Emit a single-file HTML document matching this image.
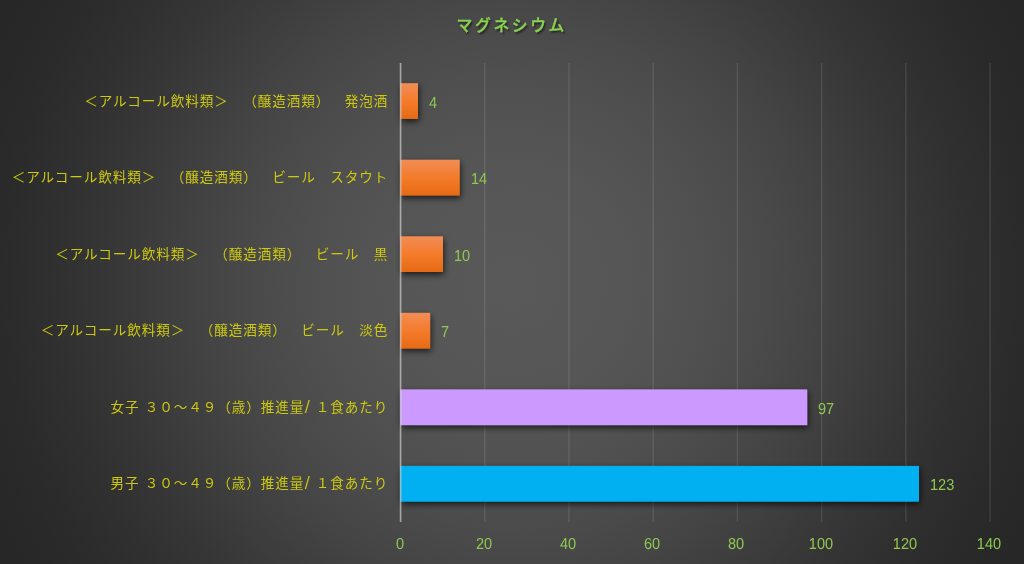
<!DOCTYPE html>
<html lang="ja"><head><meta charset="utf-8"><title>マグネシウム</title>
<style>
html,body{margin:0;padding:0;}
body{width:1024px;height:564px;overflow:hidden;position:relative;
 background:radial-gradient(circle at 512px 282px, #595959 0px, #585858 40px, #575757 75px, #565656 110px, #535353 157px, #4f4f4f 207px, #4a4a4a 257px, #444444 307px, #3d3d3d 357px, #363636 407px, #303030 457px, #2b2b2b 507px, #282828 545px, #272727 584px, #272727 600px);
 font-family:"Liberation Sans","Noto Sans CJK JP",sans-serif;}
.t{position:absolute;left:-2.2px;width:1024px;top:13.3px;text-align:center;color:#8ad250;font-weight:500;-webkit-text-stroke:.35px #8ad250;font-size:15.8px;letter-spacing:2.6px;line-height:24px;padding-left:2px;text-shadow:1.5px 1.5px 2px rgba(0,0,0,.55);font-family:"Noto Sans CJK JP","Liberation Sans",sans-serif;}
.gr{position:absolute;left:0;top:0;}
.c{position:absolute;left:0;width:388.2px;text-align:right;color:#cdc910;font-size:13.6px;letter-spacing:.9px;line-height:20px;white-space:nowrap;font-family:"Noto Sans CJK JP","Liberation Sans",sans-serif;text-spacing-trim:space-all;word-spacing:1.4px;}
.s{font-family:"DejaVu Sans","Liberation Sans",sans-serif;font-size:15px;line-height:10px;letter-spacing:.6px;margin-left:.5px}
.v{position:absolute;color:#8fc851;text-rendering:geometricPrecision;font-size:15.9px;line-height:18px;white-space:nowrap;transform:scaleX(.915);transform-origin:0 50%;margin:0 0 0 .5px;}
.x{position:absolute;top:536.3px;width:60px;margin-left:-30px;text-align:center;color:#8fc851;text-rendering:geometricPrecision;font-size:15.9px;line-height:18px;transform:scaleX(.915);}
</style></head><body>
<div class="t">マグネシウム</div>
<svg class="gr" width="1024" height="564" viewBox="0 0 1024 564">
<rect x="484.06" y="63" width="1.33" height="459" fill="#f2f2f2" fill-opacity=".115"/>
<rect x="568.28" y="63" width="1.33" height="459" fill="#f2f2f2" fill-opacity=".115"/>
<rect x="652.50" y="63" width="1.33" height="459" fill="#f2f2f2" fill-opacity=".115"/>
<rect x="736.72" y="63" width="1.33" height="459" fill="#f2f2f2" fill-opacity=".115"/>
<rect x="820.94" y="63" width="1.33" height="459" fill="#f2f2f2" fill-opacity=".115"/>
<rect x="905.15" y="63" width="1.33" height="459" fill="#f2f2f2" fill-opacity=".115"/>
<rect x="989.38" y="63" width="1.33" height="459" fill="#f2f2f2" fill-opacity=".115"/>
</svg>
<div class="c" style="top:89.5px">＜アルコール飲料類＞　（醸造酒類）　発泡酒</div>
<div class="v" style="top:95.3px;left:428.5px">4</div>
<div class="c" style="top:166.1px">＜アルコール飲料類＞　（醸造酒類）　ビール　スタウト</div>
<div class="v" style="top:171.3px;left:470.2px">14</div>
<div class="c" style="top:242.6px">＜アルコール飲料類＞　（醸造酒類）　ビール　黒</div>
<div class="v" style="top:248.3px;left:453.5px">10</div>
<div class="c" style="top:319.1px">＜アルコール飲料類＞　（醸造酒類）　ビール　淡色</div>
<div class="v" style="top:324.3px;left:440.6px">7</div>
<div class="c" style="top:395.6px">女子 ３０～４９（歳）推進量<span class="s">/</span> １食あたり</div>
<div class="v" style="top:401.3px;left:817.7px">97</div>
<div class="c" style="top:472.1px">男子 ３０～４９（歳）推進量<span class="s">/</span> １食あたり</div>
<div class="v" style="top:477.3px;left:929.5px">123</div>
<svg class="gr" width="1024" height="564" viewBox="0 0 1024 564">
<defs><linearGradient id="og" x1="0" y1="0" x2="0" y2="1"><stop offset="0" stop-color="#f08d55"/><stop offset=".5" stop-color="#f47b2b"/><stop offset="1" stop-color="#e66a14"/></linearGradient><filter id="sh" x="-100%" y="-50%" width="300%" height="200%"><feDropShadow dx="1" dy="2.7" stdDeviation="3" flood-color="#000" flood-opacity=".68"/></filter></defs>
<rect x="400.5" y="83.20" width="17.5" height="35.7" fill="url(#og)" filter="url(#sh)"/>
<rect x="400.5" y="159.75" width="59.2" height="35.7" fill="url(#og)" filter="url(#sh)"/>
<rect x="400.5" y="236.30" width="42.5" height="35.7" fill="url(#og)" filter="url(#sh)"/>
<rect x="400.5" y="312.85" width="29.6" height="35.7" fill="url(#og)" filter="url(#sh)"/>
<rect x="400.5" y="389.40" width="406.7" height="35.7" fill="#cc99ff" filter="url(#sh)"/>
<rect x="400.5" y="465.95" width="518.5" height="35.7" fill="#00b0f0" filter="url(#sh)"/>
<rect x="399.75" y="63" width="1.65" height="459" fill="#f2f2f2" fill-opacity=".54"/>
</svg>
<div class="x" style="left:399.5px">0</div>
<div class="x" style="left:483.7px">20</div>
<div class="x" style="left:567.9px">40</div>
<div class="x" style="left:652.2px">60</div>
<div class="x" style="left:736.4px">80</div>
<div class="x" style="left:820.6px">100</div>
<div class="x" style="left:904.8px">120</div>
<div class="x" style="left:989.0px">140</div>
</body></html>
